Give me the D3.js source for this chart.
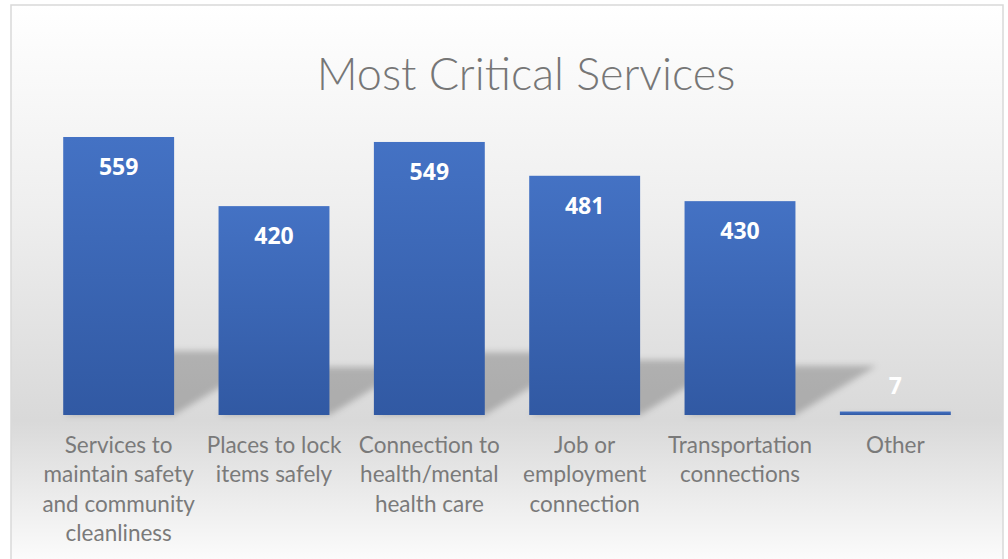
<!DOCTYPE html>
<html>
<head>
<meta charset="utf-8">
<script src="https://cdn.jsdelivr.net/npm/d3@7"></script>
<style>
  html, body { margin: 0; padding: 0; background: #fff; }
  svg { display: block; }
</style>
</head>
<body>
<div class="container"></div>
<script>
// chart values
const categories = [
  'Services to maintain safety and community cleanliness',
  'Places to lock items safely',
  'Connection to health/mental health care',
  'Job or employment connection',
  'Transportation connections',
  'Other'
];
const values = [559, 420, 549, 481, 430, 7];
// how each category label wraps under its bar
const labelLines = [
  ['Services to', 'maintain safety', 'and community', 'cleanliness'],
  ['Places to lock', 'items safely'],
  ['Connection to', 'health/mental', 'health care'],
  ['Job or', 'employment', 'connection'],
  ['Transportation', 'connections'],
  ['Other']
];
const title = 'Most Critical Services';

const width = 1008, height = 559;
const base = 415;

const svg = d3.select('.container')
  .append('svg')
  .attr('width', width)
  .attr('height', height);

const defs = svg.append('defs');

// chart area background: white -> light gray around the baseline -> white
const bg = defs.append('linearGradient')
  .attr('id', 'bg')
  .attr('x1', 0).attr('y1', 0).attr('x2', 0).attr('y2', 1);
bg.append('stop').attr('offset', '0').attr('stop-color', '#ffffff');
bg.append('stop').attr('offset', '0.35').attr('stop-color', '#efefef');
bg.append('stop').attr('offset', '0.73').attr('stop-color', '#d9d9d9');
bg.append('stop').attr('offset', '1').attr('stop-color', '#ffffff');

const barGrad = defs.append('linearGradient')
  .attr('id', 'barGrad')
  .attr('x1', 0).attr('y1', 0).attr('x2', 0).attr('y2', 1);
barGrad.append('stop').attr('offset', '0').attr('stop-color', '#4472c4');
barGrad.append('stop').attr('offset', '1').attr('stop-color', '#3159a3');

defs.append('filter')
  .attr('id', 'blur')
  .attr('x', '-20%').attr('y', '-20%').attr('width', '140%').attr('height', '140%')
  .append('feGaussianBlur')
  .attr('stdDeviation', 3);

svg.append('rect')
  .attr('x', 11)
  .attr('y', 5)
  .attr('width', 992)
  .attr('height', 570)
  .attr('fill', 'url(#bg)')
  .attr('stroke', '#d9d9d9')
  .attr('stroke-width', 1.5);

const x = d3.scaleBand()
  .domain(categories)
  .range([41, 973])
  .paddingInner(0.286)
  .paddingOuter(0.143);

const y = d3.scaleLinear()
  .domain([0, 600])
  .range([base, 116.6]);

// title
svg.append('text')
  .attr('x', 526)
  .attr('y', 90)
  .attr('text-anchor', 'middle')
  .attr('font-family', 'Lato, "Open Sans", sans-serif')
  .attr('font-weight', 300)
  .attr('font-size', 45)
  .attr('fill', '#767676')
  .text(title);

// perspective shadow cast up-right from each bar
const skew = 1.65, squash = 0.23;
svg.append('g')
  .attr('filter', 'url(#blur)')
  .selectAll('path')
  .data(values)
  .join('path')
  .attr('d', (d, i) => {
    const x0 = x(categories[i]), x1 = x0 + x.bandwidth();
    const hs = (base - y(d)) * squash;
    const dx = hs * skew;
    return `M${x0},${base}L${x1},${base}L${x1 + dx},${base - hs}L${x0 + dx},${base - hs}Z`;
  })
  .attr('fill', '#000')
  .attr('fill-opacity', 0.21);

// bars
svg.append('g')
  .selectAll('rect')
  .data(values)
  .join('rect')
  .attr('x', (d, i) => x(categories[i]))
  .attr('y', d => y(d))
  .attr('width', x.bandwidth())
  .attr('height', d => base - y(d))
  .attr('fill', 'url(#barGrad)');

// value labels (inside the bar top, or above a very short bar)
svg.append('g')
  .selectAll('text')
  .data(values)
  .join('text')
  .attr('x', (d, i) => x(categories[i]) + x.bandwidth() / 2)
  .attr('y', d => (base - y(d) > 40 ? y(d) + 38 : y(d) - 18))
  .attr('text-anchor', 'middle')
  .attr('font-family', '"Open Sans", sans-serif')
  .attr('font-weight', 700)
  .attr('font-size', 23)
  .attr('fill', '#ffffff')
  .text(d => d);

// category axis
const axis = svg.append('g')
  .attr('transform', `translate(0,${base})`)
  .call(d3.axisBottom(x).tickSize(0).tickFormat(''));
axis.select('.domain').remove();

axis.selectAll('.tick text').remove();
axis.selectAll('.tick')
  .append('text')
  .attr('text-anchor', 'middle')
  .attr('font-family', 'Lato, "Open Sans", sans-serif')
  .attr('font-size', 22.5)
  .attr('fill', '#7a7a7a')
  .selectAll('tspan')
  .data((d, i) => labelLines[i])
  .join('tspan')
  .attr('x', 0)
  .attr('y', (d, j) => 38 + j * 29.3)
  .text(d => d);
</script>
</body>
</html>
